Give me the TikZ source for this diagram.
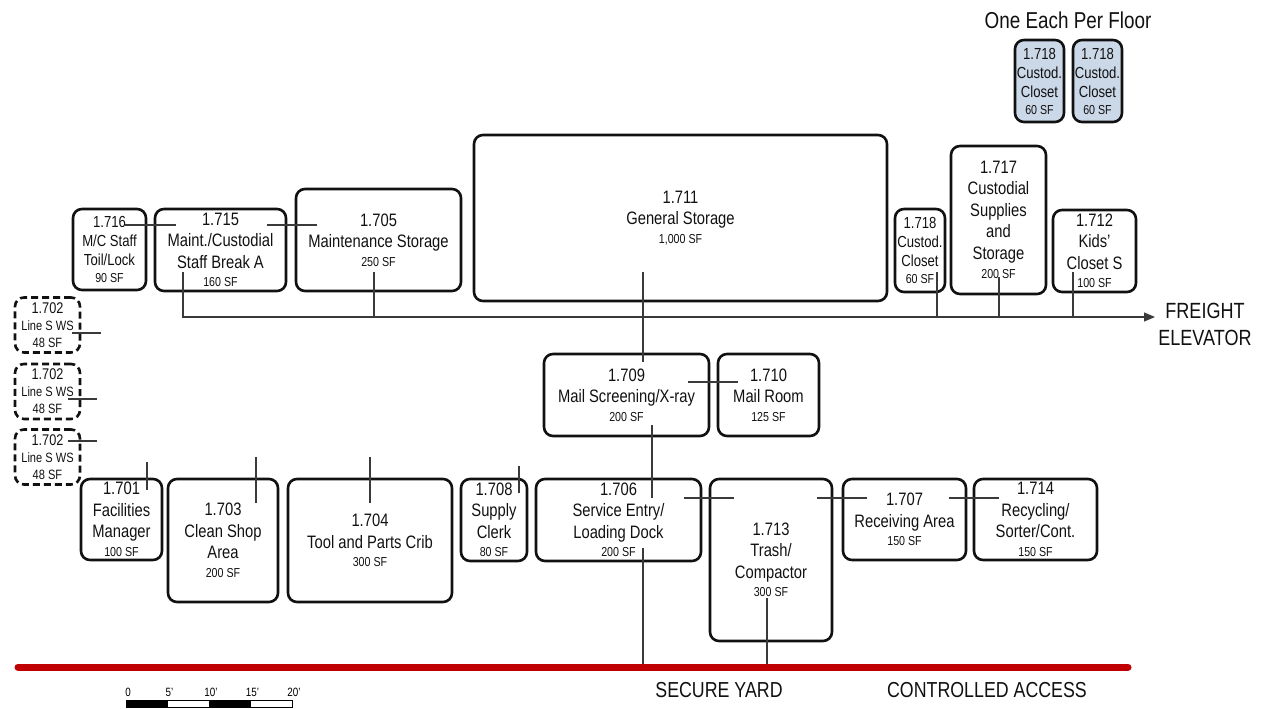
\documentclass[tikz,border=0pt]{standalone}
\usepackage{fontspec}
\setmainfont{Liberation Sans}[FakeStretch=0.82]
\usetikzlibrary{arrows.meta}
\definecolor{cInk}{HTML}{111111}
\definecolor{cLink}{HTML}{3A3A3A}
\definecolor{cYard}{HTML}{C00000}
\definecolor{cFloor}{HTML}{CBD8E8}
\newcommand{\sfz}{\fontsize{13}{15}\selectfont}
\newcommand{\wsnum}[1]{{\fontsize{15.5}{17}\selectfont #1}}
\tikzset{
  base/.style={rectangle, rounded corners=9pt, draw=cInk, line width=2.6pt, align=center,
               inner sep=1pt, text=cInk},
  wh/.style 2 args={minimum width=#1pt, minimum height=#2pt},
  room/.style={base, font=\fontsize{18}{21.5}\selectfont},
  nook/.style={base, font=\fontsize{16}{19}\selectfont},
  ws/.style={base, dash pattern=on 7pt off 4pt, font=\fontsize{13.5}{17}\selectfont, wh={65}{55}},
  floor/.style={nook, fill=cFloor, wh={49}{82}},
  link/.style={draw=cLink, line width=1.1pt},
  flow/.style={link, -{Triangle[length=11pt,width=9pt]}},
  yard/.style={draw=cYard, line width=7pt, line cap=round},
  lab/.style={font=\fontsize{22}{27}\selectfont, text=cInk, align=center},
}

\begin{document}
\begin{tikzpicture}[x=1pt, y=-1pt]
  \useasboundingbox (0,0) rectangle (1267,709);

  % ---- top row, along the freight corridor
  \node[nook, wh={73}{81}]  (r716) at (109.5,249.5) {1.716\\M/C Staff\\Toil/Lock\\[-2pt]{\sfz 90 SF}};
  \node[room, wh={131}{82}] (r715) at (220.5,250)   {1.715\\Maint./Custodial\\Staff Break A\\[-3pt]{\sfz 160 SF}};
  \node[room, wh={165}{102}] (r705) at (378.5,240)  {1.705\\Maintenance Storage\\[-3pt]{\sfz 250 SF}};
  \node[room, wh={413}{166}] (r711) at (680.5,218)  {1.711\\General Storage\\[-3pt]{\sfz 1,000 SF}};
  \node[nook, wh={50}{83}]  (r718) at (920,250.5)   {1.718\\Custod.\\Closet\\[-2pt]{\sfz 60 SF}};
  \node[room, wh={95}{148}] (r717) at (998.5,220)   {1.717\\Custodial\\Supplies\\and\\Storage\\[-2pt]{\sfz 200 SF}};
  \node[room, wh={83}{82}]  (r712) at (1094.5,251)  {1.712\\Kids'\\Closet S\\[-3pt]{\sfz 100 SF}};

  % ---- one each per floor
  \node[lab, font=\fontsize{23}{27}\selectfont] (perfloor) at (1068,20) {One Each Per Floor};
  \node[floor] (c1) at (1039.5,81) {1.718\\Custod.\\Closet\\[-2pt]{\sfz 60 SF}};
  \node[floor] (c2) at (1097.5,81) {1.718\\Custod.\\Closet\\[-2pt]{\sfz 60 SF}};

  % ---- line staff workstations
  \node[ws] (ws1) at (47.5,325)   {\wsnum{1.702}\\Line S WS\\48 SF};
  \node[ws] (ws2) at (47.5,391.5) {\wsnum{1.702}\\Line S WS\\48 SF};
  \node[ws] (ws3) at (47.5,457)   {\wsnum{1.702}\\Line S WS\\48 SF};

  % ---- mail
  \node[room, wh={165}{82}] (r709) at (626.5,395) {1.709\\Mail Screening/X-ray\\[-3pt]{\sfz 200 SF}};
  \node[room, wh={101}{82}] (r710) at (768.5,395) {1.710\\Mail Room\\[-3pt]{\sfz 125 SF}};

  % ---- bottom row, along the secure yard
  \node[room, wh={81}{81}]   (r701) at (121.5,519.5) {1.701\\Facilities\\Manager\\[-3pt]{\sfz 100 SF}};
  \node[room, wh={110}{123}] (r703) at (223,540.5)   {1.703\\Clean Shop\\Area\\[-3pt]{\sfz 200 SF}};
  \node[room, wh={164}{123}] (r704) at (370,540.5)   {1.704\\Tool and Parts Crib\\[-3pt]{\sfz 300 SF}};
  \node[room, wh={66}{82}]   (r708) at (494,520)     {1.708\\Supply\\Clerk\\[-3pt]{\sfz 80 SF}};
  \node[room, wh={165}{82}]  (r706) at (618.5,520)   {1.706\\Service Entry/\\Loading Dock\\[-3pt]{\sfz 200 SF}};
  \node[room, wh={122}{162}] (r713) at (771,560)     {1.713\\Trash/\\Compactor\\[-3pt]{\sfz 300 SF}};
  \node[room, wh={123}{81}]  (r707) at (904.5,519.5) {1.707\\Receiving Area\\[-3pt]{\sfz 150 SF}};
  \node[room, wh={123}{81}]  (r714) at (1035.5,519.5) {1.714\\Recycling/\\Sorter/Cont.\\[-3pt]{\sfz 150 SF}};

  % ---- freight corridor
  \node[lab] (freight) at (1205,324) {FREIGHT\\ELEVATOR};
  \coordinate (fline) at (1155,317);
  \coordinate (d715) at ([shift={(-37.5,22)}]r715.center);
  \coordinate (d705) at ([shift={(-4.5,32)}]r705.center);
  \coordinate (d718) at ([shift={(17,21.5)}]r718.center);
  \coordinate (d717) at ([shift={(0.5,57)}]r717.center);
  \coordinate (d712) at ([shift={(-21.5,21)}]r712.center);
  \draw[flow] (d715) |- (fline);
  \draw[link] (d705) -- (d705 |- fline);
  \draw[link] (d718) -- (d718 |- fline);
  \draw[link] (d717) -- (d717 |- fline);
  \draw[link] (d712) -- (d712 |- fline);

  % ---- adjacencies
  \draw[link] ([shift={(15.5,-24.5)}]r716.center) -- ([shift={(-44.5,-25)}]r715.center);
  \draw[link] ([shift={(46.5,-25)}]r715.center) -- ([shift={(-61.5,-15)}]r705.center);
  \draw[link] ([shift={(-37.5,54)}]r711.center) -- ([shift={(16.5,-33)}]r709.center);
  \draw[link] ([shift={(61.5,-13)}]r709.center) -- ([shift={(-30.5,-13)}]r710.center);
  \draw[link] ([shift={(25.5,30)}]r709.center) -- ([shift={(33.5,-22)}]r706.center);
  \draw[link] ([shift={(65.5,-22)}]r706.center) -- ([shift={(-37,-62)}]r713.center);
  \draw[link] ([shift={(46,-62)}]r713.center) -- ([shift={(-37.5,-21.5)}]r707.center);
  \draw[link] ([shift={(44.5,-21.5)}]r707.center) -- ([shift={(-36.5,-21.5)}]r714.center);
  \draw[link] ([shift={(24.5,8)}]ws1.center) -- ([shift={(53.5,8)}]ws1.center);
  \draw[link] ([shift={(20.5,7.5)}]ws2.center) -- ([shift={(49.5,7.5)}]ws2.center);
  \draw[link] ([shift={(20.5,-16)}]ws3.center) -- ([shift={(49.5,-16)}]ws3.center);
  \draw[link] ([shift={(25.5,-57.5)}]r701.center) -- ([shift={(25.5,-29.5)}]r701.center);
  \draw[link] ([shift={(33,-83.5)}]r703.center) -- ([shift={(33,-37.5)}]r703.center);
  \draw[link] ([shift={(0,-83.5)}]r704.center) -- ([shift={(0,-37.5)}]r704.center);
  \draw[link] ([shift={(25,-54)}]r708.center) -- ([shift={(25,-27)}]r708.center);

  % ---- secure yard
  \coordinate (yardW) at (18,667);
  \coordinate (yardE) at (1128,667);
  \coordinate (d706) at ([shift={(24.5,28)}]r706.center);
  \coordinate (d713) at ([shift={(-4,38)}]r713.center);
  \draw[link] (d706) -- (d706 |- yardW);
  \draw[link] (d713) -- (d713 |- yardW);
  \draw[yard] (yardW) -- (yardE);
  \node[lab, font=\fontsize{21.7}{26}\selectfont] (secure) at (719,690) {SECURE YARD};
  \node[lab, font=\fontsize{21.7}{26}\selectfont] (access) at (987,690) {CONTROLLED ACCESS};

  % ---- scale bar
  \foreach \i/\c in {0/black,1/white,2/black,3/white}
    \draw[line width=0.9pt, fill=\c] ({126+41.5*\i},700.5) rectangle ({167.5+41.5*\i},707.5);
  \foreach \i/\t in {0/0,1/5',2/10',3/15',4/20'}
    \node[font=\fontsize{12}{13}\selectfont, inner sep=0pt] (s\i) at ({128+41.5*\i},692) {\t};
\end{tikzpicture}
\end{document}
